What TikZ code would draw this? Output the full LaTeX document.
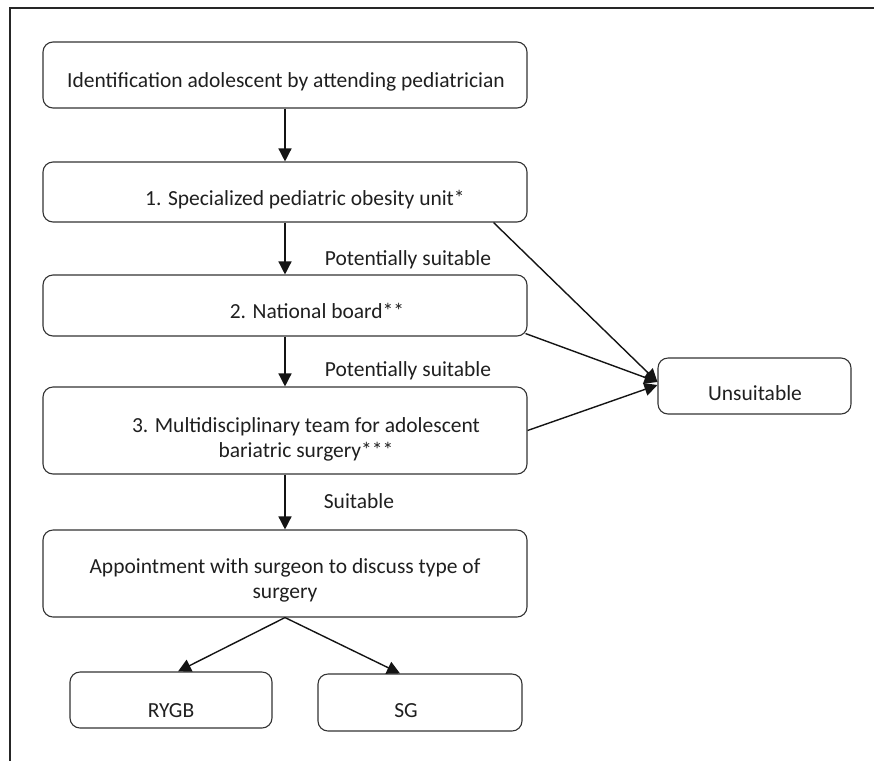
\documentclass[tikz,border=0pt]{standalone}
\usepackage{fontspec}
\setmainfont{Carlito}
\usetikzlibrary{arrows.meta,calc}
\begin{document}
\begin{tikzpicture}[x=1pt,y=-1pt,
  box/.style={draw=black!80, line width=1.1pt, rounded corners=10pt, inner sep=0pt},
  txt/.style={font=\fontsize{21.5}{25}\selectfont, text=black!88, align=center, inner sep=0pt, anchor=base},
  arr/.style={draw=black!92, line width=1.4pt, -{Triangle[length=13pt,width=13pt]}},
  frameline/.style={draw=black!85, line width=2pt}]
\useasboundingbox (0,0) rectangle (874,761);
\coordinate (fr) at (874,8);
\coordinate (fc) at (10,8);
\coordinate (fb) at (10,761);
\draw[frameline] (fr) -- (fc) -- (fb);

% boxes
\node[box, minimum width=484pt, minimum height=66pt] (b0) at (285,75) {};
\node[box, minimum width=484pt, minimum height=60pt] (b1) at (285,192) {};
\node[box, minimum width=484pt, minimum height=61pt] (b2) at (285,305.5) {};
\node[box, minimum width=484pt, minimum height=87pt] (b3) at (285,430.5) {};
\node[box, minimum width=484pt, minimum height=87pt] (b4) at (285,573.5) {};
\node[box, minimum width=193pt, minimum height=56pt] (u) at (754.5,386) {};
\node[box, minimum width=202pt, minimum height=56pt] (r) at (171,700) {};
\node[box, minimum width=204pt, minimum height=57pt] (s) at (420,702.5) {};

% texts (anchor=base: baseline of the last line)
\node[txt] (t0) at (286,87) {Identification adolescent by attending pediatrician};
\node[txt] (t1) at (305,205) {1. Specialized pediatric obesity unit*};
\node[txt] (t2) at (317,318.5) {2. National board**};
\node[txt] (t3) at (306,457) {3. Multidisciplinary team for adolescent\\bariatric surgery***};
\node[txt] (t4) at (285,598) {Appointment with surgeon to discuss type of\\surgery};
\node[txt] (tu) at (755,400.7) {Unsuitable};
\node[txt] (tr) at (171,717) {RYGB};
\node[txt] (ts) at (406,717) {SG};

% edge labels
\node[txt] (l1) at (408,265) {Potentially suitable};
\node[txt] (l2) at (408,376) {Potentially suitable};
\node[txt] (l3) at (359,508) {Suitable};

% connectors
\draw[arr] (b0.south) -- (b1.north);
\draw[arr] (b1.south) -- (b2.north);
\draw[arr] (b2.south) -- (b3.north);
\draw[arr] (b3.south) -- (b4.north);
\draw[arr] ($(b1.south east)+(-34,0)$) -- ([yshift=4pt]u.west);
\draw[arr] ($(b2.south east)+(-2,-3)$) -- ([yshift=4pt]u.west);
\draw[arr] (b3.east) -- ([yshift=1pt]u.west);
\draw[arr] (b4.south) -- ($(r.north)+(7,0)$);
\draw[arr] (b4.south) -- ($(s.north)+(-20,0)$);
\end{tikzpicture}
\end{document}
